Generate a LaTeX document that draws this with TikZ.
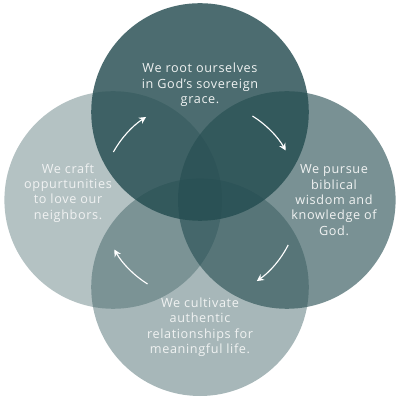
\documentclass[tikz,border=0pt]{standalone}
\usepackage{fontspec}
\setmainfont{Open Sans}[LetterSpace=5]
\usetikzlibrary{arrows.meta}

\definecolor{ringbase}{RGB}{36,76,80}
\definecolor{ringtext}{RGB}{240,242,242}

\tikzset{
  ring/.style={circle, fill=ringbase, minimum size=5.44cm, inner sep=0pt},
  words/.style={text=ringtext, align=center, font=\fontsize{9}{10.9}\selectfont},
  turn/.style={draw=white, line width=0.8pt, -{Stealth[length=5pt,width=5pt]}}
}

\begin{document}
\begin{tikzpicture}
\useasboundingbox (-5,-5) rectangle (5,5);

% the four rings
\node[ring, fill opacity=0.34] (neighbors) at (-2.17,0) {};
\node[ring, fill opacity=0.40] (relations) at (0,-2.18) {};
\node[ring, fill opacity=0.61] (wisdom) at (2.17,0) {};
\node[ring, fill opacity=0.82] (grace) at (0,2.2) {};
\coordinate (hub) at (0,0);

% texts
\node[words] (graceText) at ([yshift=0.675cm]grace.center) {We root ourselves\\in God’s sovereign\\grace.};
\node[words] (wisdomText) at ([xshift=1.18cm]wisdom.center) {We pursue\\biblical\\wisdom and\\knowledge of\\God.};
\node[words] (relationsText) at ([yshift=-1.0cm]relations.center) {We cultivate\\authentic\\relationships for\\meaningful life.};
\node[words] (neighborsText) at ([xshift=-1.13cm,yshift=0.175cm]neighbors.center) {We craft\\oppurtunities\\to love our\\neighbors.};

% the turning arrows
\draw[turn] ([shift={(151:2.475)}]hub) arc[start angle=151, end angle=123, radius=2.475];
\draw[turn] ([shift={(58:2.475)}]hub) arc[start angle=58, end angle=30, radius=2.475];
\draw[turn] ([shift={(-27:2.475)}]hub) arc[start angle=-27, end angle=-55, radius=2.475];
\draw[turn] ([shift={(-122:2.475)}]hub) arc[start angle=-122, end angle=-150, radius=2.475];
\end{tikzpicture}
\end{document}
